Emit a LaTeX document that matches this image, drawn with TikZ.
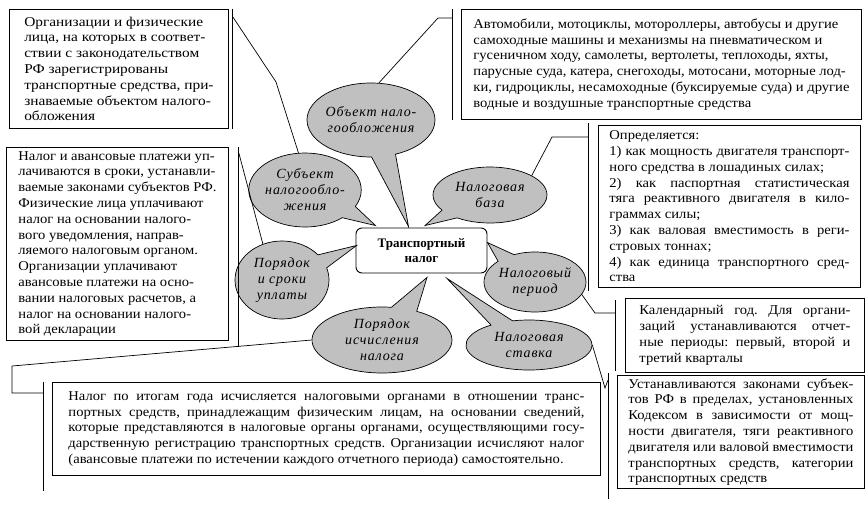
\documentclass[tikz,border=0pt]{standalone}
\usepackage{fontspec}
\setmainfont[FakeStretch=1.08, WordSpace={1,1.5,2}]{Liberation Serif}
\newfontfamily\widefont[FakeStretch=1.14, WordSpace={1,1.5,2}]{Liberation Serif}
\newfontfamily\plainfont{Liberation Serif}
\newfontfamily\bubblefont[LetterSpace=6]{Liberation Serif}
\usetikzlibrary{shapes.callouts}

\definecolor{bubblegray}{RGB}{192,192,192}
\setlength{\parindent}{0pt}
\tolerance=10000
\hbadness=10000
\frenchspacing

\tikzset{
  box/.style={rectangle, draw, line width=0.9pt, anchor=north west, inner xsep=12pt, inner ysep=3pt,
    font=\fontsize{13.5}{15.8}\selectfont},
  jbox/.style={box, align=justify},
  lbox/.style={box, align=left},
  bubble/.style={ellipse callout, draw, fill=bubblegray, line width=0.7pt, inner sep=0pt,
    align=center, callout pointer arc=22, font=\bubblefont\itshape\fontsize{14}{16}\selectfont},
  centre/.style={rectangle, draw, rounded corners=6pt, line width=0.9pt, fill=white,
    minimum width=131pt, minimum height=45pt, align=center,
    font=\plainfont\bfseries\fontsize{13}{15}\selectfont},
  bar/.style={line width=0.9pt},
  link/.style={line width=0.7pt}
}

\begin{document}
\begin{tikzpicture}[x=1pt, y=-1pt]
    \useasboundingbox (0,0) rectangle (868,520);

    % Nodo centrale
    \node[centre] (tax) at (421.5,250.5) {Транспортный\\налог};

    % Fumetti
    \node[bubble, minimum width=118pt, minimum height=74pt,
      callout absolute pointer={([xshift=-13pt,yshift=1pt]tax.north)}] (obj) at (371,120) {Объект нало-\\гообложения};
    \node[bubble, minimum width=106pt, minimum height=74pt,
      callout absolute pointer={([xshift=-46pt,yshift=2pt]tax.north)}] (subj) at (305,190) {Субъект\\налогообло-\\жения};
    \node[bubble, minimum width=114pt, minimum height=56pt,
      callout absolute pointer={([xshift=3.5pt,yshift=2pt]tax.north)}] (base) at (490,195) {Налоговая\\база};
    \node[bubble, minimum width=94pt, minimum height=78pt,
      callout absolute pointer={([xshift=1pt,yshift=5pt]tax.west)}] (pay) at (282,280) {Порядок\\и сроки\\уплаты};
    \node[bubble, minimum width=94pt, minimum height=60pt,
      callout absolute pointer={([yshift=8pt]tax.east)}] (per) at (535,282) {Налоговый\\период};
    \node[bubble, minimum width=140pt, minimum height=66pt,
      callout absolute pointer={([xshift=5.5pt,yshift=-4pt]tax.south)}] (calc) at (382,340) {Порядок\\исчисления\\налога};
    \node[bubble, minimum width=126pt, minimum height=50pt,
      callout absolute pointer={([xshift=25.5pt,yshift=-5pt]tax.south)}] (rate) at (529,345) {Налоговая\\ставка};

    % Riquadri
    \node[lbox, minimum width=219pt, minimum height=119pt, font=\widefont\fontsize{13.5}{15.8}\selectfont] (orgbox) at (9,9)
      {Организации и физические\\лица, на которых в соответ-\\ствии с законодательством\\РФ зарегистрированы\\транспортные средства, при-\\знаваемые объектом налого-\\обложения};
    \node[lbox, minimum width=396pt, minimum height=110pt] (vehbox) at (461,9)
      {Автомобили, мотоциклы, мотороллеры, автобусы и другие\\самоходные машины и механизмы на пневматическом и\\гусеничном ходу, самолеты, вертолеты, теплоходы, яхты,\\парусные суда, катера, снегоходы, мотосани, моторные лод-\\ки, гидроциклы, несамоходные (буксируемые суда) и другие\\водные и воздушные транспортные средства};
    \node[lbox, minimum width=216pt, minimum height=193pt] (paybox) at (6,147)
      {Налог и авансовые платежи уп-\\лачиваются в сроки, устанавли-\\ваемые законами субъектов РФ.\\Физические лица уплачивают\\налог на основании налого-\\вого уведомления, направ-\\ляемого налоговым органом.\\Организации уплачивают\\авансовые платежи на осно-\\вании налоговых расчетов, а\\налог на основании налого-\\вой декларации};
    \node[jbox, text width=240pt, inner xsep=11pt, minimum height=162pt] (basebox) at (598,125)
      {Определяется:\par 1) как мощность двигателя транспорт-\linebreak ного средства в лошадиных силах;\par 2) как паспортная статистическая\linebreak тяга реактивного двигателя в кило-\linebreak граммах силы;\par 3) как валовая вместимость в реги-\linebreak стровых тоннах;\par 4) как единица транспортного сред-\linebreak ства};
    \node[jbox, text width=211pt, inner xsep=14pt, minimum height=74pt] (perbox) at (625,298)
      {Календарный год. Для органи-\linebreak заций устанавливаются отчет-\linebreak ные периоды: первый, второй и\linebreak третий кварталы};
    \node[jbox, text width=225pt, inner xsep=11pt, minimum height=107pt] (ratebox) at (617,375)
      {Устанавливаются законами субъек-\linebreak тов РФ в пределах, установленных\linebreak Кодексом в зависимости от мощ-\linebreak ности двигателя, тяги реактивного\linebreak двигателя или валовой вместимости\linebreak транспортных средств, категории\linebreak транспортных средств};
    \node[jbox, text width=516pt, inner xsep=16pt, minimum height=93pt] (calcbox) at (52,382)
      {Налог по итогам года исчисляется налоговыми органами в отношении транс-\linebreak портных средств, принадлежащим физическим лицам, на основании сведений,\linebreak которые представляются в налоговые органы органами, осуществляющими госу-\linebreak дарственную регистрацию транспортных средств. Организации исчисляют налог\linebreak (авансовые платежи по истечении каждого отчетного периода) самостоятельно.};

    % Barre
    \draw[bar] ([xshift=4pt]orgbox.north east) -- ([xshift=4pt]orgbox.south east);
    \draw[bar] ([xshift=-9pt]vehbox.north west) -- ([xshift=-9pt]vehbox.south west);
    \draw[bar] ([xshift=10pt]paybox.north east) -- ([xshift=10pt,yshift=-6pt]paybox.south east);
    \draw[bar] ([xshift=-10pt,yshift=2pt]basebox.north west) -- ([xshift=-10pt,yshift=-3pt]basebox.south west);
    \draw[bar] ([xshift=-10pt,yshift=-2pt]perbox.north west) -- ([xshift=-10pt,yshift=2pt]perbox.south west);
    \draw[bar] ([xshift=-9pt,yshift=2pt]ratebox.north west) -- ([xshift=-9pt,yshift=-10pt]ratebox.south west);
    \draw[bar] ([xshift=-9pt]calcbox.north west) -- ([xshift=-9pt,yshift=-15pt]calcbox.south west);

    % Collegamenti
    \draw[link] ([xshift=4pt,yshift=-8pt]orgbox.north east) -- (276,82) -- (subj.100);
    \draw[link] ([xshift=-9pt,yshift=-9pt]vehbox.north west) -- ++(-14,0) -- (obj.78);
    \draw[link] ([xshift=10pt,yshift=-6pt]paybox.north east) -- (pay.118);
    \draw[link] ([xshift=-10pt,yshift=-12pt]basebox.north west) -- ++(-36,0) -- (base.25);
    \draw[link] (per.-15) -- (595,313) -- ([xshift=-10pt,yshift=-15pt]perbox.north west);
    \draw[link] (rate.east) -- (605,388) -- ([xshift=-9pt,yshift=-5pt]ratebox.north west);
    \draw[link] (calc.west) -- (12,366) -- (12,393) -- ([xshift=-9pt,yshift=-11pt]calcbox.north west);
\end{tikzpicture}
\end{document}
